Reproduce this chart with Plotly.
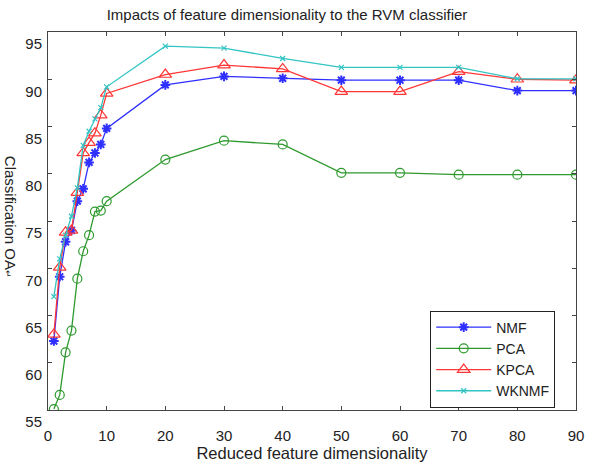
import plotly.graph_objects as go

dims = [1, 2, 3, 4, 5, 6, 7, 8, 9, 10, 20, 30, 40, 50, 60, 70, 80, 90]
nmf = [62.3, 69.1, 72.8, 74.0, 77.1, 78.4, 81.2, 82.2, 83.1, 84.8, 89.4, 90.3, 90.1, 89.9, 89.9, 89.9, 88.8, 88.8]
pca = [55.1, 56.6, 61.1, 63.4, 68.9, 71.8, 73.5, 76.0, 76.1, 77.1, 81.5, 83.5, 83.1, 80.1, 80.1, 79.9, 79.9, 79.9]
kpca = [63.0, 70.1, 73.8, 74.0, 78.0, 82.2, 83.3, 84.3, 86.2, 88.5, 90.5, 91.5, 91.1, 88.7, 88.7, 90.8, 90.0, 89.9]
wknmf = [67.0, 71.0, 73.5, 75.5, 78.5, 83.0, 84.5, 85.8, 87.0, 89.2, 93.5, 93.3, 92.2, 91.25, 91.25, 91.25, 90.05, 90.05]

x_ticks = [0, 10, 20, 30, 40, 50, 60, 70, 80, 90]
y_ticks = [55, 60, 65, 70, 75, 80, 85, 90, 95]

FONT = "Liberation Sans, Arial, sans-serif"
W, H = 596, 468
L, R, T, B = 48, 12, 32, 56
pw, ph = W - L - R, H - T - B

fig = go.Figure()
series = [
    ("NMF", nmf, "#2f2fff", dict(symbol="asterisk-open", size=8, line=dict(color="#2f2fff", width=2))),
    ("PCA", pca, "#2e9a2e", dict(symbol="circle-open", size=9, line=dict(color="#2e9a2e", width=1.2))),
    ("KPCA", kpca, "#ff3636", dict(symbol="triangle-up-open", size=11, line=dict(color="#ff3636", width=1.2))),
    ("WKNMF", wknmf, "#33c4c4", dict(symbol="x-thin-open", size=5, line=dict(color="#33c4c4", width=1.2))),
]
for name, ys, col, mk in series:
    fig.add_trace(go.Scatter(x=dims, y=ys, name=name, mode="lines+markers",
                             line=dict(color=col, width=1.3), marker=dict(color=col, **mk)))

axis_common = dict(showgrid=False, zeroline=False, showline=True, linecolor="#444", linewidth=1,
                   mirror="ticks", ticks="inside", ticklen=4, tickcolor="#444",
                   tickfont=dict(family=FONT, size=15, color="#222"))
fig.update_xaxes(range=[0, 90], tickvals=x_ticks, ticktext=[str(v) for v in x_ticks],
                 ticklabelstandoff=12,
                 title=dict(text="Reduced feature dimensionality", font=dict(family=FONT, size=16.5, color="#222"), standoff=0),
                 **axis_common)
fig.update_yaxes(range=[55, 95], tickvals=y_ticks, ticktext=[str(v) for v in y_ticks],
                 ticklabelshift=12, ticklabelstandoff=2, **axis_common)

fig.add_annotation(text="Classification OA<span style='font-size:9px'>↵</span>", textangle=90,
                   xref="paper", yref="paper", x=(0 - L) / pw, y=(H - B - 218) / ph,
                   showarrow=False, font=dict(family=FONT, size=15, color="#222"))

fig.update_layout(
    width=W, height=H, margin=dict(l=L, r=R, t=T, b=B),
    paper_bgcolor="white", plot_bgcolor="white",
    title=dict(text="Impacts of feature dimensionality to the RVM classifier",
               x=287 / W, xanchor="center", y=1 - 15 / H, yanchor="middle",
               font=dict(family=FONT, size=15, color="#222")),
    legend=dict(x=(436 - L) / pw, y=(H - B - 312) / ph, xanchor="left", yanchor="top",
                bordercolor="#222", borderwidth=1, bgcolor="white", itemwidth=55,
                font=dict(family=FONT, size=14, color="#222"), tracegroupgap=0),
    showlegend=True,
)
fig.write_html("out.html")
